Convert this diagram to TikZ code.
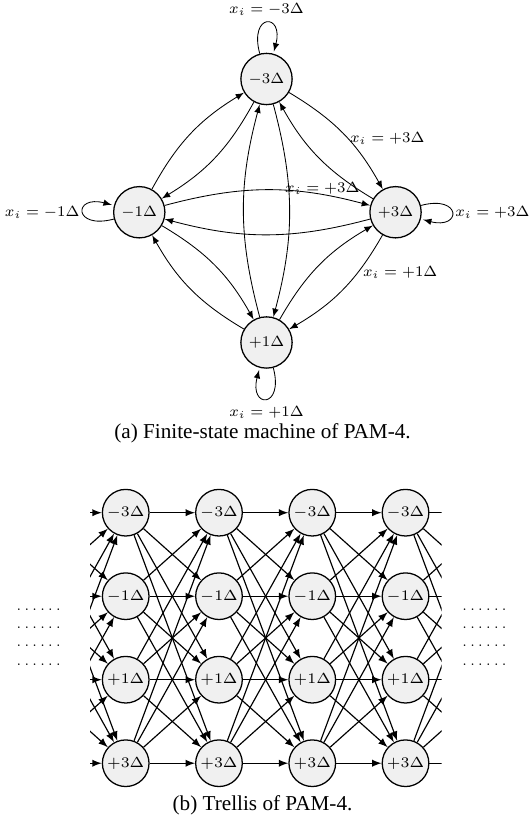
\RequirePackage{fix-cm}
\documentclass[tikz,border=0pt]{standalone}
\usepackage{amsmath}
\usepackage{amssymb}
\usepackage{fontspec}
\newfontfamily\capfont{Liberation Serif}
\usepackage{tikz}
\usetikzlibrary{arrows}
\def\fsmfont{\fontsize{7}{8.5}\selectfont}
\def\trelfont{\fontsize{6.9}{8.5}\selectfont}
\def\dotfont{\fontsize{6.3}{7}\selectfont}
\tikzset{
  fsm/.style={circle,draw,line width=.6pt,fill=black!6,minimum size=24.2pt,inner sep=0pt},
  tstate/.style={circle,draw,line width=.6pt,fill=black!6,minimum size=22pt,inner sep=0pt},
}

\begin{document}
\begin{tikzpicture}[>=latex]
			\useasboundingbox (0,0) rectangle (8.807,-13.749);
			% (a) finite-state machine
			\begin{scope}[font=\fsmfont]
				\node[fsm] (m3) at (4.42,-1.31) {$-3\Delta$};
				\node[fsm] (m1) at (2.31,-3.52) {$-1\Delta$};
				\node[fsm] (p3) at (6.56,-3.52) {$+3\Delta$};
				\node[fsm] (p1) at (4.42,-5.68) {$+1\Delta$};
				\path[->,line width=.4pt]
					(m3) edge[loop above] node[above] {$x_i=-3\Delta$} ()
					(m1) edge[loop left] node[left,inner sep=1.5pt] {$x_i=-1\Delta$} ()
					(p3) edge[loop right] node[right,inner sep=1.5pt] {$x_i=+3\Delta$} ()
					(p1) edge[loop below] node[below] {$x_i=+1\Delta$} ()
					(m3) edge[bend left=15] (m1)
					(m1) edge[bend left=15] (m3)
					(m3) edge[bend left=15] (p1)
					(p1) edge[bend left=15] (m3)
					(m3) edge[bend left=15] node[pos=.55,right,inner sep=1pt] {$x_i=+3\Delta$} (p3)
					(p3) edge[bend left=15] (m3)
					(m1) edge[bend left=15] node[pos=.78,anchor=south,inner sep=0pt] {$x_i=+3\Delta$} (p3)
					(p3) edge[bend left=15] (m1)
					(m1) edge[bend left=15] (p1)
					(p1) edge[bend left=15] (m1)
					(p1) edge[bend left=15] (p3)
					(p3) edge[bend left=15] node[pos=.26,anchor=north west,inner sep=0pt] {$x_i=+1\Delta$} (p1);
			\end{scope}
			\node[font=\capfont] (capa) at (4.354,-7.18) {(a) Finite-state machine of PAM-4.};
			% (b) trellis
			\begin{scope}[font=\trelfont]
				\clip (1.493,-7.9) rectangle (7.326,-13.2);
				\foreach \c in {0,...,5} {
					\foreach \l [count=\r] in {-3,-1,+1,+3} {
						\node[tstate] (t\c-\r) at ({0.538+1.547*\c},{-8.503-1.385*(\r-1)}) {$\l\Delta$};
					}
				}
				\foreach \c [count=\n] in {0,...,4}
					\foreach \i in {1,...,4}
						\foreach \j in {1,...,4}
							\draw[->,line width=.55pt] (t\c-\i) -- (t\n-\j);
			\end{scope}
			\foreach \y [count=\k] in {-10.105,-10.404,-10.709,-11.017} {
				\node[font=\dotfont,inner sep=0pt] (ldots\k) at (0.642,\y) {$\ldots\ldots$};
				\node[font=\dotfont,inner sep=0pt] (rdots\k) at (8.035,\y) {$\ldots\ldots$};
			}
			\node[font=\capfont] (capb) at (4.354,-13.36) {(b) Trellis of PAM-4.};
		\end{tikzpicture}
\end{document}
